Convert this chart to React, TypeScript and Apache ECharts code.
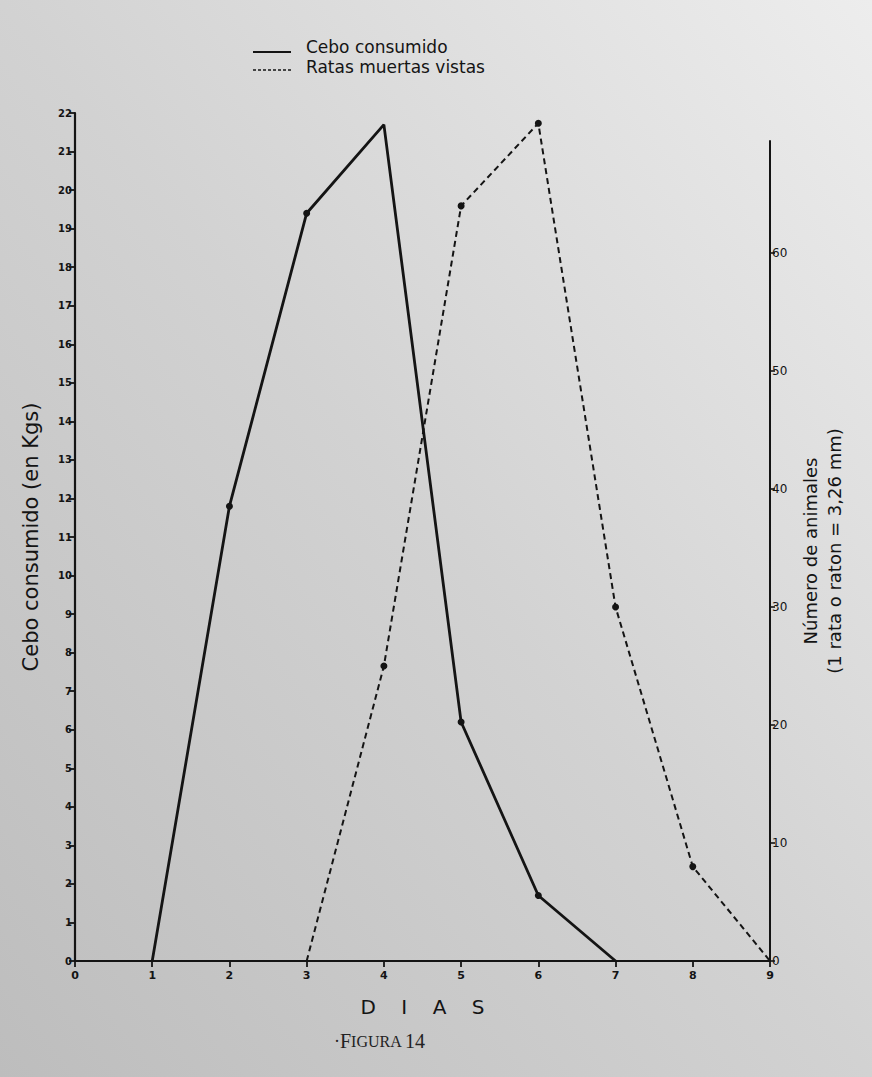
import React, { useEffect, useRef } from "react";
import * as echarts from "echarts";

const days = [0, 1, 2, 3, 4, 5, 6, 7, 8, 9];
const leftTicks = Array.from({ length: 23 }, (_, i) => i);
const rightTicks = [0, 10, 20, 30, 40, 50, 60];

// Cebo consumido (Kgs), left axis
const ceboDays = [1, 2, 3, 4, 5, 6, 7];
const ceboValues = [0, 11.8, 19.4, 21.7, 6.2, 1.7, 0];
const ceboDots = [false, true, true, false, true, true, false];

// Ratas muertas vistas (animales), right axis
const ratasDays = [3, 4, 5, 6, 7, 8, 9];
const ratasValues = [0, 25, 64, 71, 30, 8, 0];
const ratasDots = [false, true, true, true, true, true, false];

const INK = "#141414";
const FONT = "DejaVu Sans";

export default function App() {
  const ref = useRef<HTMLDivElement>(null);

  useEffect(() => {
    if (!ref.current) return;
    const chart = echarts.init(ref.current, undefined, { renderer: "svg" });

    const mk = (xs: number[], ys: number[], dots: boolean[]) =>
      xs.map((x, i) => ({
        value: [x, ys[i]],
        symbol: dots[i] ? "circle" : "none",
      }));

    const gridBase = { left: 75, right: 102, bottom: 116 };

    chart.setOption({
      animation: false,
      backgroundColor: {
        type: "linear",
        x: 0,
        y: 1,
        x2: 1,
        y2: 0,
        colorStops: [
          { offset: 0, color: "#bdbdbd" },
          { offset: 0.5, color: "#d2d2d2" },
          { offset: 1, color: "#ededed" },
        ],
      },
      legend: {
        orient: "vertical",
        left: 253,
        top: 33,
        itemWidth: 37,
        itemHeight: 14,
        itemGap: 3,
        textStyle: {
          fontFamily: FONT,
          fontSize: 17,
          color: INK,
          padding: [0, 0, 0, 6],
        },
        data: [
          { name: "Cebo consumido", icon: "none" },
          { name: "Ratas muertas vistas", icon: "none" },
        ],
      },
      grid: [
        { ...gridBase, top: 113 },
        { ...gridBase, top: 141 },
      ],
      xAxis: [
        {
          type: "value",
          gridIndex: 0,
          min: 0,
          max: 9,
          interval: 1,
          name: "D    I    A    S",
          nameLocation: "middle",
          nameGap: 36,
          nameTextStyle: { fontFamily: FONT, fontSize: 20, color: INK },
          axisLine: { show: true, onZero: false, lineStyle: { color: INK, width: 2.2 } },
          axisTick: { show: true, length: 6, lineStyle: { color: INK, width: 1.8 } },
          axisLabel: {
            fontFamily: FONT,
            fontSize: 11,
            fontWeight: "bold",
            color: INK,
            margin: 9,
          },
          splitLine: { show: false },
        },
        {
          type: "value",
          gridIndex: 1,
          min: 0,
          max: 9,
          interval: 1,
          show: false,
        },
      ],
      yAxis: [
        {
          type: "value",
          gridIndex: 0,
          position: "left",
          min: 0,
          max: 22,
          interval: 1,
          name: "Cebo consumido (en Kgs)",
          nameLocation: "middle",
          nameGap: 34,
          nameTextStyle: { fontFamily: FONT, fontSize: 21, color: INK },
          axisLine: { show: true, onZero: false, lineStyle: { color: INK, width: 2.2 } },
          axisTick: { show: true, length: 6, lineStyle: { color: INK, width: 1.8 } },
          axisLabel: {
            fontFamily: FONT,
            fontSize: 10,
            fontWeight: "bold",
            color: INK,
            margin: 3,
          },
          splitLine: { show: false },
        },
        {
          type: "value",
          gridIndex: 1,
          position: "right",
          min: 0,
          max: 69.5,
          interval: 10,
          name: "Número de animales\n(1 rata o raton = 3,26 mm)",
          nameLocation: "middle",
          nameGap: 27,
          nameTextStyle: {
            fontFamily: FONT,
            fontSize: 18,
            color: INK,
            lineHeight: 24,
          },
          axisLine: { show: true, onZero: false, lineStyle: { color: INK, width: 2 } },
          axisTick: {
            show: true,
            length: 5,
            customValues: rightTicks,
            lineStyle: { color: INK, width: 1.6 },
          },
          axisLabel: {
            fontFamily: FONT,
            fontSize: 12,
            color: INK,
            margin: 2,
            customValues: rightTicks,
          },
          splitLine: { show: false },
        },
      ],
      series: [
        {
          name: "Cebo consumido",
          type: "line",
          xAxisIndex: 0,
          yAxisIndex: 0,
          data: mk(ceboDays, ceboValues, ceboDots),
          symbolSize: 7,
          lineStyle: { color: INK, width: 2.8 },
          itemStyle: { color: INK },
          clip: false,
          z: 3,
        },
        {
          name: "Ratas muertas vistas",
          type: "line",
          xAxisIndex: 1,
          yAxisIndex: 1,
          data: mk(ratasDays, ratasValues, ratasDots),
          symbolSize: 7,
          lineStyle: { color: INK, width: 2, type: [6, 4] },
          itemStyle: { color: INK },
          clip: false,
          z: 3,
        },
      ],
      graphic: [
        {
          type: "line",
          shape: { x1: 253, y1: 52, x2: 291, y2: 52 },
          style: { stroke: INK, lineWidth: 2 },
        },
        {
          type: "line",
          shape: { x1: 253, y1: 70, x2: 291, y2: 70 },
          style: { stroke: INK, lineWidth: 1.5, lineDash: [3, 2] },
        },
        {
          type: "text",
          left: 334,
          top: 1031,
          style: {
            text: "{d|·}{b|F}{s|IGURA} {b|14}",
            rich: {
              d: { fontFamily: "Liberation Serif", fontSize: 18, fill: "#222" },
              b: { fontFamily: "Liberation Serif", fontSize: 20, fill: "#222" },
              s: { fontFamily: "Liberation Serif", fontSize: 16, fill: "#222" },
            },
          },
        },
      ],
    });

    return () => chart.dispose();
  }, []);

  return (
    <div
      ref={ref}
      style={{ position: "fixed", left: 0, top: 0, width: 872, height: 1077 }}
    />
  );
}
